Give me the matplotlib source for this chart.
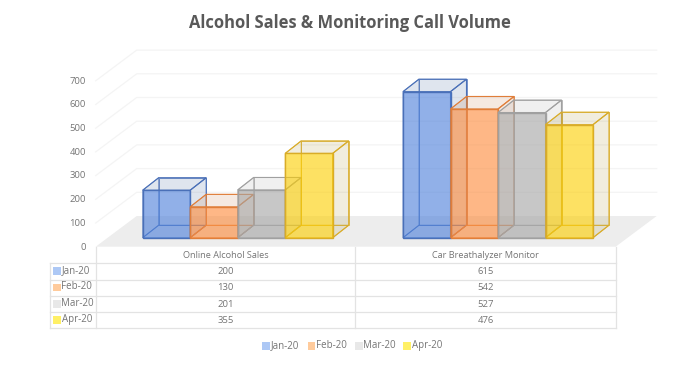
import matplotlib
matplotlib.use("Agg")
import matplotlib.pyplot as plt
from matplotlib.patches import Polygon, Rectangle

categories = ["Online Alcohol Sales", "Car Breathalyzer Monitor"]
months = ["Jan-20", "Feb-20", "Mar-20", "Apr-20"]
jan = [200, 615]
feb = [130, 542]
mar = [201, 527]
apr = [355, 476]
series = [jan, feb, mar, apr]
yticks = [0, 100, 200, 300, 400, 500, 600, 700]

fills = ["#4C80DC", "#FF8B3A", "#A5A5A5", "#FFD000"]
sides = ["#3D5F9A", "#C47A40", "#A5A5A5", "#A89030"]
edges = ["#4A70B8", "#E07E3A", "#A0A0A0", "#D9AC28"]
swatches = ["#ADC8F5", "#FFCB9C", "#E8E8E8", "#FFF066"]
text_col = "#757575"
line_col = "#e3e3e3"

plt.rcParams["font.family"] = "Open Sans"

fig = plt.figure(figsize=(7, 3.67), dpi=100)
ax = fig.add_axes([0, 0, 1, 1])
# axes in pixels of the picture, y going down
ax.set_xlim(0, 700)
ax.set_ylim(367, 0)
ax.axis("off")

scale = 0.2375  # px per unit on the front of the bars
wall_scale = 0.237
base_y = 237.7
floor_front = 246.7
floor_back = 216
depth_x = 16
depth_y = 12.5
bar_w = 47.5
group_x = [142.7, 403]

# floor
ax.add_patch(Polygon([(95.7, floor_front), (136.7, floor_back), (656.7, floor_back), (615.7, floor_front)],
                     facecolor="#ededed", edgecolor="none", zorder=1))

# gridlines on side and back wall
for t in yticks[1:]:
    h = t * wall_scale
    ax.plot([95.7, 136.7, 656.7], [floor_front - h, floor_back - h, floor_back - h],
            color="#f4f4f4", lw=0.9, zorder=0.5)
for t in yticks:
    ax.text(86, floor_front - t * wall_scale + 0.4, str(t), ha="right", va="center",
            fontsize=6.8, color=text_col)


def draw_bar(x, value, fill, side, edge, z):
    top = base_y - value * scale
    x2 = x + bar_w
    bx, bx2 = x + depth_x, x2 + depth_x
    by, btop = base_y - depth_y, top - depth_y
    # inner faces go first, their edges show through the front
    faces = [[(bx, by), (bx2, by), (bx2, btop), (bx, btop)],
             [(x, base_y), (x2, base_y), (bx2, by), (bx, by)],
             [(x, base_y), (bx, by), (bx, btop), (x, top)]]
    for f in faces:
        ax.add_patch(Polygon(f, facecolor=side, alpha=0.03, edgecolor="none", zorder=z))
        ax.add_patch(Polygon(f, facecolor="none", edgecolor=edge, lw=0.7, alpha=0.75, zorder=z))
    for f in [[(x, top), (x2, top), (bx2, btop), (bx, btop)],
              [(x2, base_y), (bx2, by), (bx2, btop), (x2, top)]]:
        ax.add_patch(Polygon(f, facecolor=side, alpha=0.13, edgecolor="none", zorder=z + 0.1))
        ax.add_patch(Polygon(f, facecolor="none", edgecolor=edge, lw=0.8, zorder=z + 0.1))
    ax.add_patch(Rectangle((x, top), bar_w, value * scale, facecolor=fill, alpha=0.6,
                           edgecolor="none", zorder=z + 0.2))
    ax.add_patch(Rectangle((x, top), bar_w, value * scale, facecolor="none",
                           edgecolor=edge, lw=1.0, zorder=z + 0.2))


for g, gx in enumerate(group_x):
    for i, vals in enumerate(series):
        draw_bar(gx + i * bar_w, vals[g], fills[i], sides[i], edges[i], 2 + i)

# data table
rows_y = [263.3, 279.6, 296, 312.2, 328.3]
col_x = [95.7, 355.3, 615.7]
for y in rows_y:
    ax.plot([49.5, 615.7], [y, y], color=line_col, lw=0.9, zorder=8)
ax.plot([49.5, 49.5], [rows_y[0], rows_y[-1]], color=line_col, lw=0.9, zorder=8)
for x in col_x:
    ax.plot([x, x], [floor_front, rows_y[-1]], color=line_col, lw=0.9, zorder=8)
for c, name in enumerate(categories):
    cx = (col_x[c] + col_x[c + 1]) / 2
    ax.text(cx, 255.8, name, ha="center", va="center", fontsize=6.55, color=text_col, zorder=9)
    for i, vals in enumerate(series):
        ax.text(cx, (rows_y[i] + rows_y[i + 1]) / 2, str(vals[c]), ha="center", va="center",
                fontsize=6.8, color=text_col, zorder=9)
for i, m in enumerate(months):
    cy = (rows_y[i] + rows_y[i + 1]) / 2
    ax.add_patch(Rectangle((53, cy - 4), 7.5, 7.5, facecolor=swatches[i], edgecolor="none", zorder=9))
    ax.text(61.5, cy - 1, m, ha="left", va="center", fontsize=7, color=text_col, zorder=9)

# legend
legend_x = [262.3, 307.7, 355, 403.3]
for i, m in enumerate(months):
    ax.add_patch(Rectangle((legend_x[i], 342), 7.5, 7.5, facecolor=swatches[i], edgecolor="none", zorder=9))
    ax.text(legend_x[i] + 8.5, 345.5, m, ha="left", va="center", fontsize=7, color=text_col, zorder=9)

ax.text(350, 23, "Alcohol Sales & Monitoring Call Volume", ha="center", va="center",
        fontsize=11.9, fontweight="bold", color="#595959")

fig.savefig("out.png", dpi=100)
